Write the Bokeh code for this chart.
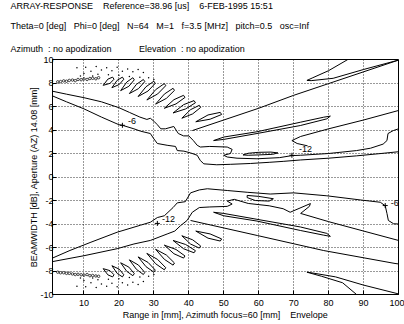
from bokeh.plotting import figure
from bokeh.models import Label, FixedTicker, Range1d, Title
from bokeh.embed import file_html
from bokeh.resources import INLINE

# ---------------- data ----------------
x_ticks = [10, 20, 30, 40, 50, 60, 70, 80, 90, 100]
y_ticks = [-10, -8, -6, -4, -2, 0, 2, 4, 6, 8, 10]

# upper half contour lines
ua_x = [1, 5, 10, 15, 20, 23, 26, 28, 29, 30, 31, 32, 33.3, 35.7, 37, 38.5, 40, 41.3, 42.4, 43.3, 46, 51, 52.4, 51.9, 50, 51, 53.8, 59.5, 66, 69.5, 72, 80, 88, 92, 95.6, 96.7, 97, 98.5, 100]
ua_y = [7.3, 7.05, 6.75, 6.4, 5.9, 5.5, 5.1, 4.9, 5.0, 4.75, 4.45, 4.1, 4.1, 4.3, 3.7, 3.5, 3.5, 3.1, 2.7, 2.55, 2.6, 2.55, 2.35, 2.0, 1.85, 1.7, 1.6, 1.55, 1.65, 1.82, 1.85, 2.0, 2.25, 2.45, 2.8, 3.1, 3.7, 3.95, 4.1]
ub_x = [1, 5, 10, 15, 20, 21, 24.3, 26.2, 29, 30, 31, 33.8, 36.2, 36.7, 38.6, 40.5, 42.4, 43.3, 44.3, 48, 52, 57.6, 63, 67, 72, 80, 88, 95, 100]
ub_y = [6.9, 6.4, 5.8, 5.1, 4.45, 4.4, 4.1, 3.9, 3.7, 3.25, 2.85, 2.7, 2.6, 2.25, 2.2, 2.05, 1.85, 1.4, 1.12, 1.04, 1.08, 1.15, 1.25, 1.33, 1.45, 1.6, 1.8, 2.0, 2.15]
u_island_x = [55.5, 57, 60, 63.5, 65.5, 64, 60, 57, 55.5]
u_island_y = [1.88, 2.02, 2.1, 2.12, 2.05, 1.93, 1.88, 1.85, 1.88]
u_diag_x = [41, 50, 60, 70, 80, 90, 100]
u_diag_y = [3.95, 4.85, 5.85, 6.95, 7.95, 8.95, 9.95]
u_long_x = [47.1, 50, 59.5, 71.9, 78.6, 80.5, 79.5, 71.9, 59.5, 50, 47.1]
u_long_y = [3.1, 3.4, 3.85, 4.66, 5.09, 5.18, 4.95, 4.38, 3.7, 3.2, 3.1]
u_side_x = [100, 90, 80, 72, 69.5, 71, 74]
u_side_y = [5.66, 4.85, 4.1, 3.45, 3.1, 2.85, 2.65]
u_top_x = [85.5, 80, 75.5, 73.8, 75, 81.3, 90, 100]
u_top_y = [10, 9.05, 8.45, 8.22, 8.2, 8.4, 9.15, 9.95]
u_fing_tip_x = [15.5, 18, 20.5, 23, 25.5, 28, 30.5, 33, 35.5, 38, 42]
u_fing_tip_y = [7.8, 7.6, 7.35, 7.1, 6.85, 6.55, 6.2, 5.85, 5.45, 5.0, 4.7]
u_fing_end_x = [18.2, 21, 24, 27, 30, 33, 35.5, 38.5, 41.5, 43, 49]
u_fing_end_y = [8.5, 8.5, 8.45, 8.3, 8.15, 7.95, 7.55, 6.95, 6.5, 6.1, 5.5]
u_loop_x = [2.5, 3.3, 4.2, 5.0, 5.8, 6.7, 7.5, 8.3, 9.2, 10.0, 10.9, 11.7, 12.5, 13.4, 14.2]
u_loop_y = [8.1, 8.12, 8.18, 8.15, 8.22, 8.25, 8.2, 8.3, 8.28, 8.35, 8.3, 8.38, 8.4, 8.36, 8.45]
u_dot_x = [8, 10.5, 12, 13.5, 15, 16.5, 18, 19.5, 21, 22.5, 24, 25.5, 27, 10, 14, 17, 20, 23, 26, 28.5, 30, 9, 12.5]
u_dot_y = [9.3, 9.35, 9.0, 9.4, 9.1, 9.3, 9.05, 9.35, 9.0, 9.2, 8.95, 9.15, 8.9, 8.8, 8.75, 8.7, 8.65, 8.55, 8.5, 8.45, 8.3, 8.6, 8.6]

# lower half contour lines
lc_x = [1, 6, 12, 19.5, 26.2, 29, 31, 33, 35.5, 36.7, 39, 40.5, 43, 45.3, 51, 56.7, 63.3, 70, 79.5, 89, 94.8, 96.2, 96.7, 97.1, 98.6, 100]
lc_y = [-6.9, -6.25, -5.55, -4.7, -4.1, -3.85, -3.45, -3.3, -2.6, -2.2, -2.1, -1.35, -1.1, -1.0, -1.15, -1.3, -1.45, -1.35, -1.6, -1.95, -2.15, -2.45, -3.1, -3.7, -3.98, -4.0]
ld_x = [1, 10, 19.5, 24.3, 29, 33.8, 36, 37.6, 39.5, 41, 43, 46, 51, 52.4, 51, 53, 57, 63, 67, 69, 74.8, 74.5, 72, 80, 90, 100]
ld_y = [-7.2, -6.7, -6.1, -5.7, -5.4, -4.85, -4.6, -4.15, -3.7, -3.0, -2.6, -2.55, -2.5, -2.3, -2.05, -1.9, -2.25, -2.45, -2.7, -3.0, -2.26, -2.5, -3.1, -3.8, -4.6, -5.4]
l_island_x = [56.7, 60, 64.2, 63, 59, 56.7, 56.7]
l_island_y = [-1.57, -1.65, -1.85, -2.05, -2.0, -1.75, -1.57]
l_diag_x = [40.5, 59.6, 78.6, 99, 100]
l_diag_y = [-3.7, -4.98, -6.26, -7.36, -7.4]
l_long_x = [47.1, 50, 59.5, 71.9, 78.6, 80.5, 79.5, 71.9, 59.5, 50, 47.1]
l_long_y = [-3.0, -3.3, -3.75, -4.55, -4.95, -5.05, -4.8, -4.25, -3.6, -3.1, -3.0]
l_bot_x = [88, 84, 78, 73.8, 75, 82, 90, 100]
l_bot_y = [-10, -9.0, -8.45, -8.1, -8.15, -8.5, -9.2, -9.95]
l_fing_tip_x = [15.5, 18, 20.5, 23, 25.5, 28, 30.5, 33, 35.5, 38, 42]
l_fing_tip_y = [-7.8, -7.55, -7.3, -7.05, -6.8, -6.5, -6.15, -5.8, -5.4, -5.0, -4.6]
l_fing_end_x = [18.2, 21, 24, 27, 30, 33, 35.5, 38.5, 41.5, 43, 49]
l_fing_end_y = [-8.5, -8.5, -8.4, -8.3, -8.1, -7.9, -7.5, -6.9, -6.45, -6.05, -5.45]
l_loop_x = [2.5, 3.3, 4.2, 5.0, 5.8, 6.7, 7.5, 8.3, 9.2, 10.0, 10.9, 11.7, 12.5, 13.4, 14.2]
l_loop_y = [-8.1, -8.15, -8.15, -8.2, -8.2, -8.25, -8.3, -8.28, -8.32, -8.35, -8.3, -8.4, -8.38, -8.42, -8.45]
l_dot_x = [8, 10.5, 12, 13.5, 15, 16.5, 18, 19.5, 21, 22.5, 24, 25.5, 27, 10, 14, 17, 20, 23, 26, 28.5, 30, 9, 12.5]
l_dot_y = [-9.3, -9.35, -9.0, -9.4, -9.1, -9.3, -9.05, -9.35, -9.0, -9.2, -8.95, -9.15, -8.9, -8.8, -8.75, -8.7, -8.65, -8.55, -8.5, -8.45, -8.3, -8.6, -8.6]

# contour labels: (text, x, y) and the "+" marks
clabel_text = ["-6", "-12", "-12", "-6"]
clabel_x = [22.6, 71.5, 32.3, 97.8]
clabel_y = [4.75, 2.35, -3.55, -2.25]
cplus_x = [21, 69.5, 31, 96.2]
cplus_y = [4.4, 1.85, -3.95, -2.43]

title_lines = [
    ["ARRAY-RESPONSE", "Reference=38.96 [us]", "6-FEB-1995 15:51"],
    ["Theta=0 [deg]", "Phi=0 [deg]", "N=64", "M=1", "f=3.5 [MHz]", "pitch=0.5", "osc=Inf"],
    ["Azimuth  : no apodization", "Elevation  : no apodization"],
]
x_title = "Range in [mm], Azimuth focus=60 [mm]\u00a0\u00a0\u00a0\u00a0Envelope"
y_title = "BEAMWIDTH [dB], Aperture (AZ) 14.08 [mm]"

# ---------------- layout ----------------
FONT = "Liberation Sans"
L, R, T, B = 52, 6, 59, 30
W, H = 404, 324
p = figure(width=W, height=H, output_backend="svg", toolbar_location=None, title=None,
           x_range=Range1d(1, 100), y_range=Range1d(-10, 10),
           min_border_left=L, min_border_right=R, min_border_top=T, min_border_bottom=B)
p.background_fill_color = "white"
p.border_fill_color = "white"
p.outline_line_color = "black"
p.outline_line_width = 1

# header: three title rows (added bottom row first)
gaps = ["\u00a0" * 4, "\u00a0" * 3, "\u00a0" * 11]
valigns = ["bottom", "bottom", "top"]
for segs, gap, sto, va in zip(reversed(title_lines), reversed(gaps), [12, 9, 1.5], valigns):
    txt = gap.join(s.replace(" ", "\u00a0") for s in segs)
    p.add_layout(Title(text=txt, align="left", offset=10 - L, standoff=sto, vertical_align=va,
                       text_font=FONT, text_font_size="9px", text_font_style="normal",
                       text_color="black"), "above")

for ax in (p.xaxis, p.yaxis):
    ax.major_tick_in = 4
    ax.major_tick_out = 0
    ax.minor_tick_line_color = None
    ax.axis_line_color = "black"
    ax.major_tick_line_color = "black"
    ax.major_label_text_font = FONT
    ax.major_label_text_font_size = "9px"
    ax.major_label_text_color = "black"
    ax.axis_label_text_font = FONT
    ax.axis_label_text_font_size = "9px"
    ax.axis_label_text_font_style = "normal"
    ax.axis_label_text_color = "black"

p.xaxis.ticker = FixedTicker(ticks=x_ticks)
p.yaxis.ticker = FixedTicker(ticks=y_ticks)
p.xaxis.major_label_overrides = {t: str(t) for t in x_ticks}
p.yaxis.major_label_overrides = {t: str(t) for t in y_ticks}
p.xaxis.major_label_standoff = 5
p.yaxis.major_label_standoff = -1
p.xaxis.axis_label = x_title
p.yaxis.axis_label = y_title
p.xaxis.axis_label_standoff = 1
p.yaxis.axis_label_standoff = -2

p.xgrid.ticker = FixedTicker(ticks=x_ticks)
p.ygrid.ticker = FixedTicker(ticks=y_ticks)
for g in (p.xgrid, p.ygrid):
    g.grid_line_color = "black"
    g.grid_line_alpha = 0.8
    g.grid_line_dash = "1 2"
    g.grid_line_width = 1

LC = "black"
LW = 1
lines = [(ua_x, ua_y), (ub_x, ub_y), (u_island_x, u_island_y), (u_diag_x, u_diag_y),
         (u_long_x, u_long_y), (u_side_x, u_side_y), (u_top_x, u_top_y),
         (lc_x, lc_y), (ld_x, ld_y), (l_island_x, l_island_y), (l_diag_x, l_diag_y),
         (l_long_x, l_long_y), (l_bot_x, l_bot_y)]
for xs, ys in lines:
    p.line(xs, ys, line_color=LC, line_width=LW)

def fingers(tx, ty, ex, ey, sign):
    out_x, out_y = [], []
    for a, b, c, d in zip(tx, ty, ex, ey):
        w = 0.18 * sign
        out_x.append([a, (a + c) / 2, c, c + 0.4, (a + c) / 2 + 0.6, a])
        out_y.append([b, (b + d) / 2 + w, d, d - w, (b + d) / 2 - w, b])
    return out_x, out_y

fx, fy = fingers(u_fing_tip_x, u_fing_tip_y, u_fing_end_x, u_fing_end_y, 1)
p.patches(fx, fy, fill_color=None, line_color=LC, line_width=LW)
fx, fy = fingers(l_fing_tip_x, l_fing_tip_y, l_fing_end_x, l_fing_end_y, -1)
p.patches(fx, fy, fill_color=None, line_color=LC, line_width=LW)

p.scatter(u_loop_x, u_loop_y, marker="circle", size=2.5, fill_color=None, line_color=LC, line_width=0.7)
p.scatter(l_loop_x, l_loop_y, marker="circle", size=2.5, fill_color=None, line_color=LC, line_width=0.7)
p.scatter(u_dot_x, u_dot_y, marker="circle", size=1.5, fill_color=LC, line_color=None)
p.scatter(l_dot_x, l_dot_y, marker="circle", size=1.5, fill_color=LC, line_color=None)

p.scatter(cplus_x, cplus_y, marker="cross", size=5, line_color=LC, line_width=1)
for t, x, y in zip(clabel_text, clabel_x, clabel_y):
    p.add_layout(Label(x=x, y=y, text=t, text_font=FONT, text_font_size="9px",
                       text_color="black", text_baseline="middle", text_align="left"))

open("out.html", "w").write(file_html(p, INLINE))
